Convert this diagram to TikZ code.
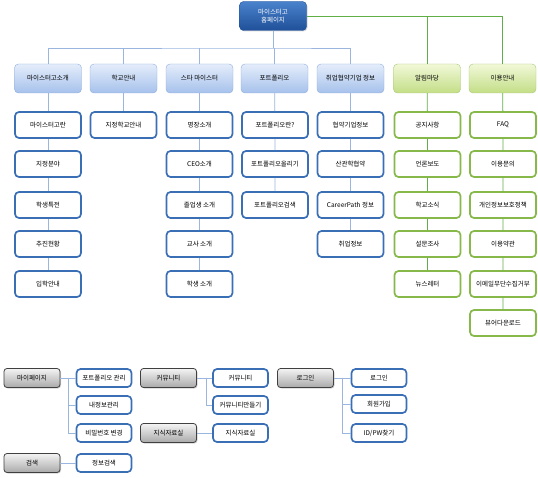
\documentclass[tikz,border=0pt]{standalone}
\usepackage{fontspec}
\newfontfamily\krfont{Noto Sans CJK KR}
\usetikzlibrary{shadows}

\definecolor{homedark}{HTML}{1F5099}
\definecolor{homelight}{HTML}{4A82CC}
\definecolor{menutop}{HTML}{E4EDFA}
\definecolor{menubot}{HTML}{A6C1EC}
\definecolor{menuline}{HTML}{8EACDC}
\definecolor{greentop}{HTML}{F1F8D8}
\definecolor{greenbot}{HTML}{C3DE86}
\definecolor{greenline}{HTML}{A6C678}
\definecolor{pageblue}{HTML}{3A6FB5}
\definecolor{pagegreen}{HTML}{86B84A}
\definecolor{wireblue}{HTML}{9AB6DE}
\definecolor{wiregreen}{HTML}{5FAE46}
\definecolor{graytop}{HTML}{F4F4F4}
\definecolor{graybot}{HTML}{A9A9A9}

\tikzset{
  homebox/.style={rectangle, rounded corners=4pt, draw=homedark, top color=homelight, bottom color=homedark,
    text=white, minimum width=67pt, minimum height=29pt, align=center, font=\krfont\fontsize{6.5}{8.5}\selectfont,
    drop shadow={opacity=0.3, shadow xshift=1pt, shadow yshift=-1pt}},
  menubox/.style={rectangle, rounded corners=4pt, draw=menuline, top color=menutop, bottom color=menubot,
    minimum width=67pt, minimum height=29pt, font=\krfont\fontsize{6.5}{8}\selectfont, inner sep=1pt},
  greenmenu/.style={menubox, draw=greenline, top color=greentop, bottom color=greenbot},
  pagebox/.style={rectangle, rounded corners=4pt, draw=pageblue, line width=1.7pt, fill=white,
    minimum width=66pt, minimum height=26pt, font=\krfont\fontsize{6.5}{8}\selectfont, inner sep=1pt},
  greenpage/.style={pagebox, draw=pagegreen},
  graybox/.style={rectangle, rounded corners=3pt, draw=black!75, line width=0.8pt, top color=graytop, bottom color=graybot,
    minimum width=56pt, minimum height=19pt, font=\krfont\fontsize{6.5}{8}\selectfont,
    drop shadow={opacity=0.35, shadow xshift=1pt, shadow yshift=-1pt}},
  smallpage/.style={pagebox, minimum width=55pt, minimum height=18pt},
  bluewire/.style={draw=wireblue, line width=0.8pt},
  greenwire/.style={draw=wiregreen, line width=0.8pt}
}

\begin{document}
\begin{tikzpicture}[x=1pt, y=-1pt]
  \useasboundingbox (0,0) rectangle (538,478);

  % site root
  \node[homebox] at (273,16) (home) {마이스터고\\홈페이지};
  \coordinate (bus) at (273,48);

  % first level
  \node[menubox] at (48,78.5) (intro) {마이스터고소개};
  \node[menubox] at (123.5,78.5) (school) {학교안내};
  \node[menubox] at (199.5,78.5) (star) {스타 마이스터};
  \node[menubox] at (274.5,78.5) (portfolio) {포트폴리오};
  \node[menubox] at (350.5,78.5) (career) {취업협약기업 정보};
  \node[greenmenu] at (427,78.5) (notice) {알림마당};
  \node[greenmenu] at (502.5,78.5) (guide) {이용안내};

  \draw[bluewire] (home.south) -- (bus);
  \draw[bluewire] (intro.north) |- (bus) -| (career.north);
  \draw[bluewire] (school.north) -- (school.north |- bus);
  \draw[bluewire] (star.north) -- (star.north |- bus);
  \draw[bluewire] (portfolio.north) -- (portfolio.north |- bus);
  \draw[greenwire] (home.east) -| (guide.north);
  \draw[greenwire] (notice.north) -- (notice.north |- home.east);

  % second level
  \node[pagebox] at (48,125) (meister) {마이스터고란};
  \node[pagebox] at (48,164) (field) {지정분야};
  \node[pagebox] at (48,205) (benefit) {학생특전};
  \node[pagebox] at (48,244) (progress) {추진현황};
  \node[pagebox] at (48,284) (admission) {입학안내};

  \node[pagebox] at (123.5,125) (designated) {지정학교안내};

  \node[pagebox] at (199.5,125) (master) {명장소개};
  \node[pagebox] at (199.5,164) (ceo) {CEO소개};
  \node[pagebox] at (199.5,205) (alumni) {졸업생 소개};
  \node[pagebox] at (199.5,244) (teacher) {교사 소개};
  \node[pagebox] at (199.5,284) (student) {학생 소개};

  \node[pagebox] at (275,125) (pfwhat) {포트폴리오란?};
  \node[pagebox] at (275,164) (pfupload) {포트폴리오올리기};
  \node[pagebox] at (275,205) (pfsearch) {포트폴리오검색};

  \node[pagebox] at (350.5,125) (partner) {협약기업정보};
  \node[pagebox] at (350.5,164) (industry) {산관학협약};
  \node[pagebox] at (350.5,205) (careerpath) {CareerPath 정보};
  \node[pagebox] at (350.5,244) (jobinfo) {취업정보};

  \node[greenpage] at (427.5,125) (announce) {공지사항};
  \node[greenpage] at (427.5,164) (press) {언론보도};
  \node[greenpage] at (427.5,205) (schoolnews) {학교소식};
  \node[greenpage] at (427.5,244) (survey) {설문조사};
  \node[greenpage] at (427.5,284) (newsletter) {뉴스레터};

  \node[greenpage] at (503,125) (faq) {FAQ};
  \node[greenpage] at (503,164) (inquiry) {이용문의};
  \node[greenpage] at (503,205) (privacy) {개인정보보호정책};
  \node[greenpage] at (503,244) (terms) {이용약관};
  \node[greenpage] at (503,284) (noemail) {이메일무단수집거부};
  \node[greenpage] at (503,323) (viewer) {뷰어다운로드};

  \draw[bluewire] (intro) -- (meister) -- (field) -- (benefit) -- (progress) -- (admission);
  \draw[bluewire] (school) -- (designated);
  \draw[bluewire] (star) -- (master) -- (ceo) -- (alumni) -- (teacher) -- (student);
  \draw[bluewire] (portfolio) -- (pfwhat) -- (pfupload) -- (pfsearch);
  \draw[bluewire] (career) -- (partner) -- (industry) -- (careerpath) -- (jobinfo);
  \draw[greenwire] (notice) -- (announce) -- (press) -- (schoolnews) -- (survey) -- (newsletter);
  \draw[greenwire] (guide) -- (faq) -- (inquiry) -- (privacy) -- (terms) -- (noemail) -- (viewer);

  % utility menus
  \node[graybox] at (32,378) (mypage) {마이페이지};
  \node[smallpage] at (104,378) (pfmanage) {포트폴리오 관리};
  \node[smallpage] at (104,405) (myinfo) {내정보관리};
  \node[smallpage] at (104,433) (password) {비밀번호 변경};
  \node[graybox] at (32,463) (search) {검색};
  \node[smallpage] at (104,463) (infosearch) {정보검색};

  \node[graybox] at (168.5,378) (community) {커뮤니티};
  \node[smallpage] at (240.5,378) (commlist) {커뮤니티};
  \node[smallpage] at (240.5,405) (commmake) {커뮤니티만들기};
  \node[graybox] at (168.5,433) (knowledge) {지식자료실};
  \node[smallpage] at (240.5,433) (library) {지식자료실};

  \node[graybox] at (305.5,378) (login) {로그인};
  \node[smallpage] at (379,378) (signin) {로그인};
  \node[smallpage] at (379,404) (join) {회원가입};
  \node[smallpage] at (379,433) (findid) {ID/PW찾기};

  \draw[bluewire] (mypage) -- (pfmanage);
  \draw[bluewire] (mypage.east) -- ++(8,0) |- (myinfo.west);
  \draw[bluewire] (mypage.east) -- ++(8,0) |- (password.west);
  \draw[bluewire] (search) -- (infosearch);
  \draw[bluewire] (community) -- (commlist);
  \draw[bluewire] (community.east) -- ++(9,0) |- (commmake.west);
  \draw[bluewire] (knowledge) -- (library);
  \draw[bluewire] (login) -- (signin);
  \draw[bluewire] (login.east) -- ++(8,0) |- (join.west);
  \draw[bluewire] (login.east) -- ++(8,0) |- (findid.west);
\end{tikzpicture}
\end{document}
